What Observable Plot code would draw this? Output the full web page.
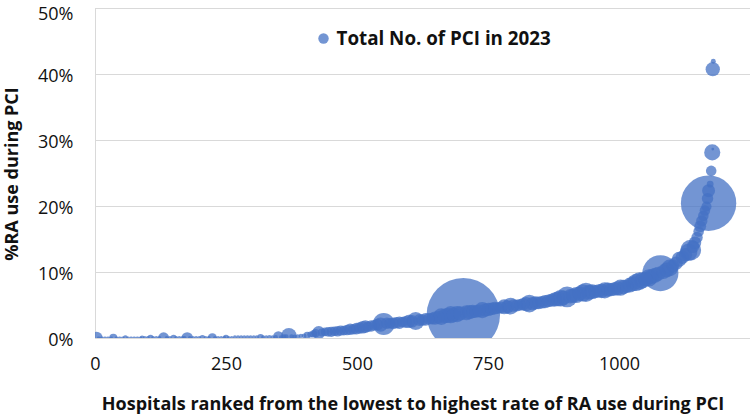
<!DOCTYPE html>
<html><head><meta charset="utf-8">
<script src="https://cdn.jsdelivr.net/npm/d3@7"></script>
<script src="https://cdn.jsdelivr.net/npm/@observablehq/plot@0.6"></script>
<style>
body{margin:0;background:#fff;}
#wrap{position:relative;width:750px;height:416px;}
#ytitle{position:absolute;left:11px;top:174px;transform:translate(-50%,-50%) rotate(-90deg);
  white-space:nowrap;font-family:'Open Sans',sans-serif;font-weight:bold;font-size:18px;line-height:1;color:#111;}
</style></head>
<body><div id="wrap"><div id="ytitle"></div></div>
<script>
// Hospital rank (x), % radial access use (y, in %), total number of PCI in 2023 (bubble size)
const rank = [
  2,6,12,18,24,30,34,40,46,52,
  57,62,68,74,80,86,89,94,100,105,
  110,116,122,130,136,142,149,154,160,166,
  170,175,180,186,192,198,204,210,216,223,
  228,234,240,246,249,254,260,266,272,278,
  284,290,296,302,308,315,320,326,332,338,
  344,349,354,360,364,369,374,380,386,392,
  398,404,410,416,420,426,432,438,444,450,
  456,462,468,474,480,486,492,498,504,510,
  515,520,526,532,538,544,550,556,562,568,
  574,580,586,592,598,604,611,618,624,630,
  636,642,648,654,660,666,672,678,684,690,
  696,702,708,714,720,726,732,738,744,750,
  756,762,768,774,780,786,792,798,804,810,
  816,822,828,834,840,846,852,858,864,870,
  876,882,888,894,900,906,912,918,924,930,
  936,942,948,954,960,966,972,978,984,990,
  996,1002,1008,1014,1020,1026,1032,1038,1044,1050,
  1056,1062,1068,1074,1078,1084,1090,1096,1102,1108,
  1114,1120,1126,1132,1136,1140,1144,1148,1151,1154,
  1157,1160,1163,1166,1170,1168,1170,1173,1175,1177,
  1178,1178,1179
];
const pctRA = [
  0.1,0.0,0.0,0.0,0.0,0.0,0.1,0.0,0.0,0.0,
  0.1,0.0,0.0,0.0,0.0,0.0,0.1,0.1,0.1,0.1,
  0.1,0.1,0.1,0.1,0.1,0.1,0.1,0.1,0.1,0.1,
  0.1,0.1,0.1,0.1,0.1,0.1,0.1,0.1,0.1,0.1,
  0.1,0.1,0.1,0.1,0.1,0.1,0.1,0.2,0.2,0.2,
  0.2,0.2,0.2,0.2,0.2,0.2,0.2,0.2,0.2,0.2,
  0.2,0.3,0.2,0.3,0.3,0.4,0.3,0.3,0.3,0.4,
  0.4,0.5,0.6,0.7,0.8,0.9,0.9,1.0,1.0,1.0,
  1.1,1.1,1.2,1.2,1.3,1.4,1.4,1.5,1.6,1.7,
  1.8,1.8,1.9,2.0,2.1,2.1,2.2,2.3,2.3,2.3,
  2.4,2.4,2.5,2.5,2.6,2.6,2.65,2.8,2.8,2.9,
  3.0,3.0,3.1,3.2,3.3,3.4,3.5,3.6,3.6,3.7,
  3.8,3.6,3.9,4.0,4.1,4.1,4.2,4.3,4.3,4.4,
  4.5,4.6,4.6,4.7,4.8,4.8,4.9,5.0,5.0,5.1,
  5.2,5.2,5.3,5.3,5.4,5.4,5.5,5.6,5.7,5.8,
  5.9,6.0,6.1,6.2,6.3,6.4,6.5,6.6,6.8,6.9,
  7.0,7.0,7.1,7.1,7.2,7.2,7.3,7.4,7.4,7.5,
  7.6,7.7,7.8,7.9,8.1,8.3,8.5,8.7,8.8,9.0,
  9.2,9.4,9.6,9.8,9.9,10.1,10.4,10.7,11.0,11.4,
  12.0,12.3,12.7,13.1,13.4,13.9,14.5,15.3,16.2,17.0,
  17.8,18.6,19.4,20.0,20.5,21.2,22.4,23.4,25.4,28.2,
  28.7,40.8,42.0
];
const pciTotal = [
  80,8,8,8,8,8,35,8,8,8,
  14,8,8,8,8,8,12,8,8,20,
  8,8,8,65,8,8,20,8,8,8,
  8,70,8,8,8,8,18,8,8,45,
  8,8,8,8,20,8,8,8,8,9,
  8,9,8,8,9,22,9,8,10,9,
  10,60,9,10,12,130,10,9,12,10,
  12,25,20,30,40,90,35,40,50,55,
  50,60,55,50,60,70,60,75,70,85,
  85,60,70,60,75,110,260,70,60,75,
  70,85,60,75,95,85,170,75,70,85,
  70,75,95,85,150,110,120,160,110,140,
  110,2900,120,110,95,85,85,140,95,95,
  85,85,75,75,120,95,150,85,75,75,
  85,110,170,95,95,85,85,95,85,90,
  110,120,150,110,230,110,110,140,110,160,
  200,120,120,95,95,110,140,110,95,95,
  110,140,110,95,120,120,160,170,140,110,
  160,120,120,110,700,110,120,150,85,95,
  120,95,95,160,230,85,85,70,60,75,
  70,60,60,55,1650,70,90,25,60,140,
  4,110,13
];
const xTicks = [0, 250, 500, 750, 1000];
const yTicks = [0, 0.1, 0.2, 0.3, 0.4, 0.5];
const legendLabel = ["Total No. of PCI in 2023"];
const xTitle = ["Hospitals ranked from the lowest to highest rate of RA use during PCI"];
const yTitle = "%RA use during PCI";

const data = rank.map((r, i) => ({rank: r, pct: pctRA[i] / 100, n: pciTotal[i]}));
const blue = "#4472C4";
const font = "'Open Sans', sans-serif";
const pctFmt = d => Math.round(d * 100) + "%";
const yTopTick = yTicks.slice(-1);
const yOtherTicks = yTicks.slice(0, -1);

const chart = Plot.plot({
  width: 750, height: 416,
  marginLeft: 95, marginRight: 0, marginTop: 8, marginBottom: 78,
  style: {fontFamily: font, fontSize: "18px", color: "#111", background: "#fff"},
  x: {domain: [0, 1250]},
  y: {domain: [0, 0.5]},
  r: {type: "sqrt", domain: [0, 2900], range: [0, 36.7]},
  marks: [
    Plot.gridY(yTicks, {stroke: "#d9d9d9", strokeOpacity: 1, strokeWidth: 1}),
    Plot.ruleX([0], {stroke: "#d9d9d9", strokeWidth: 1}),
    Plot.axisX(xTicks, {tickSize: 0, tickPadding: 19, label: null, fontSize: 18, tickFormat: d => String(d)}),
    Plot.axisY(yOtherTicks, {tickSize: 0, tickPadding: 22, label: null, fontSize: 18, dy: 2, tickFormat: pctFmt}),
    Plot.axisY(yTopTick, {tickSize: 0, tickPadding: 22, label: null, fontSize: 18, dy: 5.5, tickFormat: pctFmt}),
    Plot.dot(data, {x: "rank", y: "pct", r: "n", fill: blue, fillOpacity: 0.75, clip: true}),
    Plot.dot([0], {frameAnchor: "top-left", dx: 228, dy: 30, r: 5.2, fill: blue, fillOpacity: 0.75}),
    Plot.text(legendLabel, {frameAnchor: "top-left", dx: 241, dy: 30, textAnchor: "start", lineAnchor: "middle",
      fontWeight: "bold", fontSize: 18.8, fill: "#111"}),
    Plot.text(xTitle, {frameAnchor: "bottom", dx: -10, dy: 66, lineAnchor: "middle",
      fontWeight: "bold", fontSize: 18, fill: "#111"})
  ]
});
document.getElementById("wrap").appendChild(chart);
document.getElementById("ytitle").textContent = yTitle;
</script>
</body></html>
